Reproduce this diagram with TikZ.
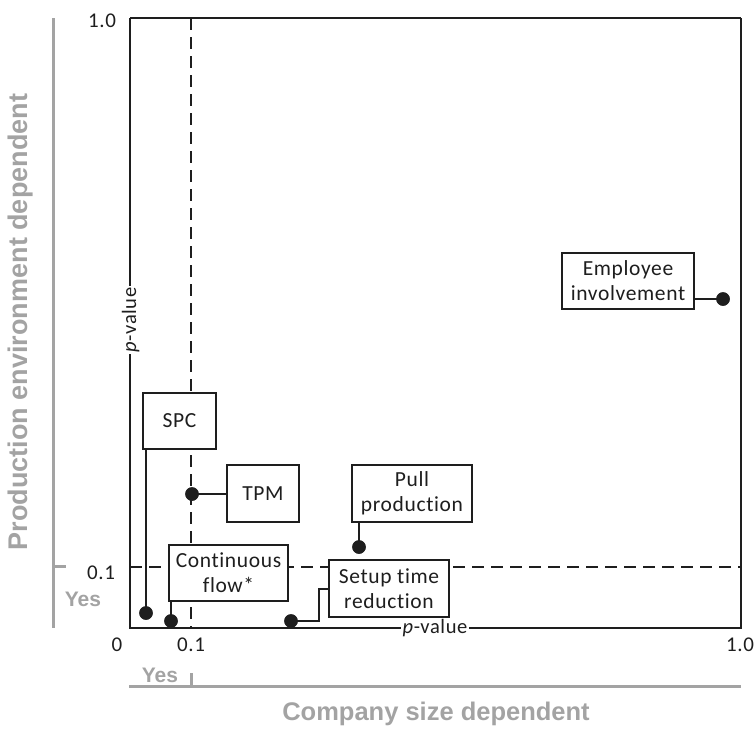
\documentclass[tikz,border=0pt]{standalone}
\usepackage{fontspec}
\setmainfont{Carlito}[Ligatures=NoCommon, LetterSpace=3]
\newfontfamily\titlefont{Liberation Sans}
\definecolor{axisgray}{RGB}{163,163,163}
\definecolor{ink}{RGB}{30,30,30}
\tikzset{
  lbox/.style={draw=ink, line width=1.1pt, fill=white, align=center, inner sep=0pt,
    text=ink, font=\fontsize{21.5}{25}\selectfont},
  pdot/.style={circle, fill=ink, draw=none, minimum size=13.5pt, inner sep=0pt},
  link/.style={draw=ink, line width=1.1pt},
  guide/.style={draw=ink, line width=1.2pt, dash pattern=on 12pt off 7pt},
  ticklabel/.style={text=ink, font=\fontsize{21}{22}\selectfont, inner sep=0pt},
  pval/.style={fill=white, text=ink, font=\fontsize{20.5}{22}\selectfont, inner xsep=1.5pt, inner ysep=0pt, anchor=base},
  grayaxis/.style={draw=axisgray, line width=3pt},
  graylabel/.style={text=axisgray, font=\titlefont\bfseries\fontsize{21}{24}\selectfont, inner sep=0pt},
  graytitle/.style={text=axisgray, font=\titlefont\bfseries\fontsize{25.5}{28}\selectfont, inner sep=0pt},
}
\begin{document}
\begin{tikzpicture}[x=1pt,y=-1pt]
\useasboundingbox (0,0) rectangle (755,729);

% threshold lines at p = 0.1
\draw[guide] (191,18) -- (191,628);
\draw[guide] (130,567) -- (741,567);

% plot frame
\draw[draw=ink, line width=1.2pt] (130,18) -- (741,18);
\draw[draw=ink, line width=1.4pt] (741,18) -- (741,628);
\draw[draw=ink, line width=1.6pt] (130,18) -- (130,628);
\draw[draw=ink, line width=2.6pt] (129,628) -- (742,628);

% axis names on the frame
\node[pval] (pvx) at (435,633) {\textit{p}-value};
\node[pval, rotate=90] (pvy) at (136,320) {\textit{p}-value};

% tick labels
\node[ticklabel] (x0) at (117,645) {0};
\node[ticklabel] (x01) at (191,645) {0.1};
\node[ticklabel] (x1) at (740,645) {1.0};
\node[ticklabel] (y1) at (102,21) {1.0};
\node[ticklabel] (y01) at (101,573) {0.1};

% gray dependency axes
\draw[grayaxis] (53,18) -- (53,628);
\draw[grayaxis] (53,566) -- (66,566);
\draw[grayaxis] (129,686) -- (741,686);
\draw[grayaxis] (191,686) -- (191,673);
\node[graylabel] (yesy) at (83,599) {Yes};
\node[graylabel] (yesx) at (160,675) {Yes};
\node[graytitle] (titlex) at (436,714) {Company size dependent};
\node[graytitle, font=\titlefont\bfseries\fontsize{27}{29}\selectfont, rotate=90] (titley) at (21,322) {Production environment dependent};

% data points
\node[pdot] (dspc) at (146,613) {};
\node[pdot] (dcf) at (171,621) {};
\node[pdot] (dtpm) at (192,494) {};
\node[pdot] (dpull) at (359,547) {};
\node[pdot] (dsetup) at (291,621) {};
\node[pdot] (demp) at (723,299) {};

% labels
\node[lbox, minimum width=73pt, minimum height=56pt] (spc) at (179.5,421) {SPC};
\node[lbox, minimum width=72pt, minimum height=57pt] (tpm) at (263,493.5) {TPM};
\node[lbox, minimum width=120pt, minimum height=57pt] (pull) at (412,493.5) {Pull\\production};
\node[lbox, minimum width=119pt, minimum height=56pt] (cf) at (228.5,573) {Continuous\\flow*};
\node[lbox, minimum width=120pt, minimum height=57pt] (setup) at (389,588.5) {Setup time\\reduction};
\node[lbox, minimum width=132pt, minimum height=56pt] (emp) at (628,281) {Employee\\involvement};

% leader lines
\coordinate (bend) at (319,589);
\draw[link] (dspc.center) -- (dspc.center |- spc.south);
\draw[link] (dcf.center) -- (dcf.center |- cf.south);
\draw[link] (dtpm.center) -- (tpm.west |- dtpm.center);
\draw[link] (dpull.center) -- (dpull.center |- pull.south);
\draw[link] (dsetup.center) -| (bend) -- (bend -| setup.west);
\draw[link] (demp.center) -- (emp.east |- demp.center);
\node[pdot] at (dspc) {};
\node[pdot] at (dcf) {};
\node[pdot] at (dtpm) {};
\node[pdot] at (dpull) {};
\node[pdot] at (dsetup) {};
\node[pdot] at (demp) {};
\end{tikzpicture}
\end{document}
